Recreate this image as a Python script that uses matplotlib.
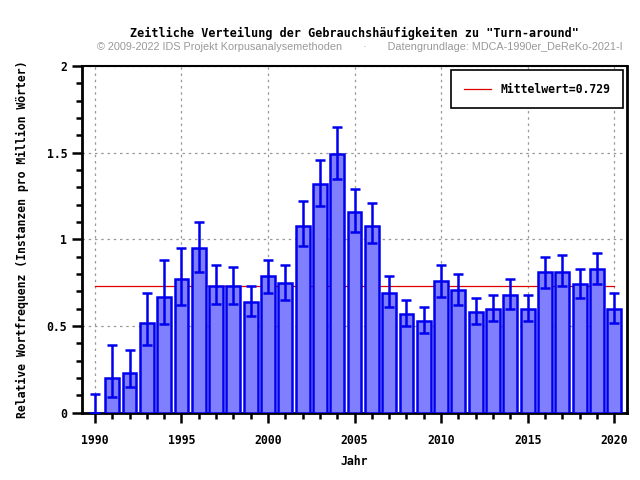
import numpy as np
import matplotlib.pyplot as plt
from matplotlib.ticker import MultipleLocator

years = np.arange(1990, 2021)
values = [0.0, 0.20, 0.23, 0.52, 0.67, 0.77, 0.95, 0.73, 0.73, 0.64,
          0.79, 0.75, 1.08, 1.32, 1.49, 1.16, 1.08, 0.69, 0.57, 0.53,
          0.76, 0.71, 0.58, 0.60, 0.68, 0.60, 0.81, 0.81, 0.74, 0.83, 0.60]
err_hi = [0.11, 0.39, 0.365, 0.69, 0.88, 0.95, 1.10, 0.85, 0.84, 0.73,
          0.88, 0.855, 1.22, 1.46, 1.65, 1.29, 1.21, 0.79, 0.65, 0.61,
          0.85, 0.80, 0.66, 0.68, 0.77, 0.68, 0.90, 0.91, 0.83, 0.92, 0.69]
err_lo = [0.0, 0.09, 0.15, 0.39, 0.51, 0.62, 0.81, 0.63, 0.63, 0.56,
          0.69, 0.65, 0.96, 1.19, 1.35, 1.04, 0.98, 0.61, 0.50, 0.46,
          0.67, 0.62, 0.51, 0.53, 0.60, 0.53, 0.72, 0.73, 0.66, 0.74, 0.52]
mean = 0.729

mono = "DejaVu Sans Mono"
fs = 8.3
vals = np.array(values)
yerr = [vals - np.array(err_lo), np.array(err_hi) - vals]

fig = plt.figure(figsize=(6.4, 4.8), dpi=100)
ax = fig.add_axes([0.128, 0.14, 0.852, 0.7225])

ax.bar(years, vals, width=0.8, color="#8080ff", edgecolor="#0000ee",
       linewidth=1.8, zorder=3)
ax.errorbar(years, vals, yerr=yerr, fmt="none", ecolor="#0000ee",
            elinewidth=1.8, capsize=3.5, capthick=1.8, zorder=4)
ax.plot([years[0], years[-1]], [mean, mean], color="#dd0000", lw=0.9,
        zorder=2, label="Mittelwert=0.729")

ax.set_xlim(1989.25, 2020.75)
ax.set_ylim(0, 2)
ax.xaxis.set_major_locator(MultipleLocator(5))
ax.xaxis.set_minor_locator(MultipleLocator(1))
ax.yaxis.set_major_locator(MultipleLocator(0.5))
ax.yaxis.set_minor_locator(MultipleLocator(0.1))
ax.yaxis.set_major_formatter(plt.FuncFormatter(lambda v, p: f"{v:g}"))
ax.tick_params(which="major", length=7, width=1.8, direction="out")
ax.tick_params(which="minor", length=4, width=1.8, direction="out")
ax.tick_params(axis="x", which="major", pad=8)
for lab in ax.get_xticklabels() + ax.get_yticklabels():
    lab.set_family(mono)
    lab.set_fontweight("bold")
    lab.set_fontsize(fs)
ax.grid(True, which="major", color="#999999", linestyle=(0, (2, 3)), lw=0.9, zorder=0)

for side in ["left", "bottom", "right"]:
    ax.spines[side].set_linewidth(2)
ax.spines["top"].set_linewidth(1.5)

ax.set_xlabel("Jahr", family=mono, fontweight="bold", fontsize=fs, labelpad=6)
ax.set_ylabel("Relative Wortfrequenz (Instanzen pro Million Wörter)",
              family=mono, fontweight="bold", fontsize=fs, labelpad=13)

leg = ax.legend(loc="upper right", prop=dict(family=mono, weight="bold", size=fs),
                fancybox=False, edgecolor="black", framealpha=1,
                borderpad=1.1, handlelength=2.4, borderaxespad=0.35)
leg.get_frame().set_linewidth(1.2)

fig.text(0.554, 0.931, 'Zeitliche Verteilung der Gebrauchshäufigkeiten zu "Turn-around"',
         ha="center", va="center", family=mono, fontweight="bold", fontsize=8.5)
fig.text(0.5625, 0.902, "© 2009-2022 IDS Projekt Korpusanalysemethoden       ·       "
         "Datengrundlage: MDCA-1990er_DeReKo-2021-I",
         ha="center", va="center", family="Liberation Sans", fontsize=7.8, color="#999999")

fig.savefig("out.png", dpi=100)
